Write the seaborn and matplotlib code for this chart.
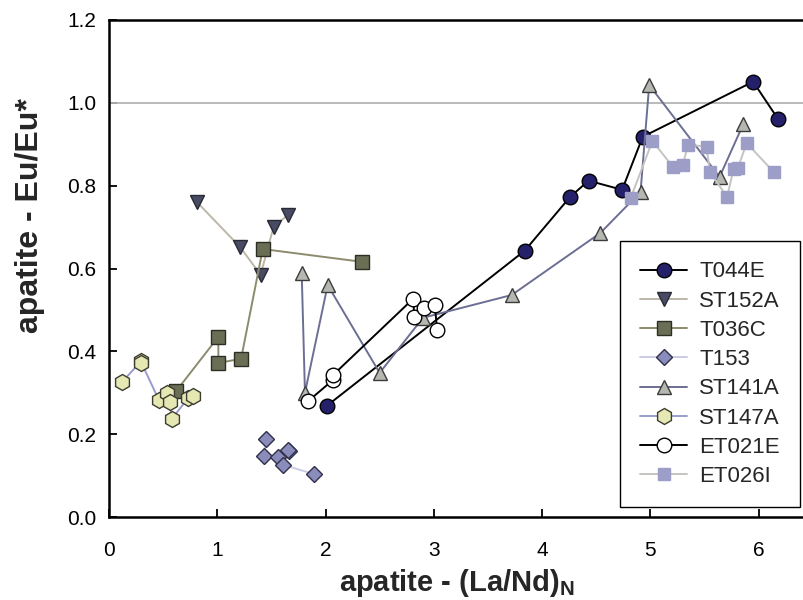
import matplotlib
matplotlib.use("Agg")
import matplotlib.pyplot as plt
import seaborn as sns
import pandas as pd

# Sample series: (La/Nd)N ratio and Eu anomaly measured in apatite
t044e_x = [2.01, 3.84, 4.26, 4.43, 4.74, 4.93, 5.95, 6.18]
t044e_y = [0.268, 0.643, 0.773, 0.812, 0.790, 0.918, 1.051, 0.961]

st152a_x = [0.81, 1.21, 1.40, 1.52, 1.65]
st152a_y = [0.761, 0.652, 0.585, 0.700, 0.729]

t036c_x = [0.62, 1.01, 1.01, 1.22, 1.42, 2.34]
t036c_y = [0.304, 0.435, 0.372, 0.382, 0.647, 0.616]

t153_x = [1.45, 1.43, 1.56, 1.66, 1.65, 1.61, 1.89]
t153_y = [0.188, 0.147, 0.145, 0.159, 0.162, 0.126, 0.104]

st141a_x = [1.78, 1.81, 2.02, 2.50, 2.90, 3.72, 4.54, 4.91, 4.99, 5.64, 5.86]
st141a_y = [0.589, 0.300, 0.560, 0.348, 0.481, 0.536, 0.686, 0.785, 1.043, 0.821, 0.949]

st147a_x = [0.12, 0.30, 0.30, 0.46, 0.54, 0.56, 0.58, 0.73, 0.78]
st147a_y = [0.326, 0.377, 0.372, 0.283, 0.300, 0.278, 0.237, 0.287, 0.292]

et021e_x = [1.84, 2.07, 2.07, 2.81, 2.82, 2.91, 3.01, 3.03]
et021e_y = [0.280, 0.331, 0.343, 0.527, 0.483, 0.505, 0.512, 0.452]

et026i_x = [4.82, 5.02, 5.21, 5.30, 5.35, 5.52, 5.55, 5.71, 5.77, 5.81, 5.89, 6.14]
et026i_y = [0.771, 0.908, 0.845, 0.850, 0.899, 0.894, 0.833, 0.773, 0.841, 0.843, 0.903, 0.833]

x_ticks = [0, 1, 2, 3, 4, 5, 6]
y_ticks = [0.0, 0.2, 0.4, 0.6, 0.8, 1.0, 1.2]
y_tick_labels = ["0.0", "0.2", "0.4", "0.6", "0.8", "1.0", "1.2"]

sns.set_theme(style="ticks")
plt.rcParams["font.family"] = ["Liberation Sans", "DejaVu Sans"]
plt.rcParams["mathtext.fontset"] = "custom"
plt.rcParams["mathtext.rm"] = "Liberation Sans"
plt.rcParams["mathtext.bf"] = "Liberation Sans:bold"

fig = plt.figure(figsize=(8.04, 6.0), dpi=100)
ax = fig.add_axes([0.1356, 0.1383, 0.8644, 0.8284])

# reference line for no Eu anomaly
ax.axhline(1.0, color="#b4b4b4", lw=1.3, zorder=1)

series = [
    ("T044E", t044e_x, t044e_y, dict(marker="o", color="black", mfc="#25206a", mec="black", ms=10.5)),
    ("ST152A", st152a_x, st152a_y, dict(marker="v", color="#bcb7a8", mfc="#474b63", mec="#2a2a35", ms=10.5)),
    ("T036C", t036c_x, t036c_y, dict(marker="s", color="#8c8b6e", mfc="#6a6e55", mec="#2e2e25", ms=9.5)),
    ("T153", t153_x, t153_y, dict(marker="D", color="#cbcbe6", mfc="#8a8cbc", mec="#30304a", ms=8.5)),
    ("ST141A", st141a_x, st141a_y, dict(marker="^", color="#6c6f93", mfc="#b4b8b0", mec="#3c3c3c", ms=10.5)),
    ("ST147A", st147a_x, st147a_y, dict(marker="h", color="#9a9ccc", mfc="#e6e8b4", mec="#3c3c30", ms=11.5)),
    ("ET021E", et021e_x, et021e_y, dict(marker="o", color="black", mfc="white", mec="black", ms=10.5)),
    ("ET026I", et026i_x, et026i_y, dict(marker="s", color="#c4c4c0", mfc="#9c9ec8", mec="#9c9ec8", ms=8)),
]

for name, xs, ys, st in series:
    df = pd.DataFrame({"x": xs, "y": ys})
    sns.lineplot(data=df, x="x", y="y", sort=False, estimator=None, ax=ax,
                 label=name, color=st["color"], lw=1.4, marker=st["marker"],
                 markersize=st["ms"], markerfacecolor=st["mfc"],
                 markeredgecolor=st["mec"], markeredgewidth=1.0)

ax.set_xlim(0, 6.42)
ax.set_ylim(0, 1.2)
ax.set_xticks(x_ticks)
ax.set_yticks(y_ticks)
ax.set_yticklabels(y_tick_labels)

for side in ["left", "bottom", "top"]:
    ax.spines[side].set_linewidth(1.8)
    ax.spines[side].set_color("black")
ax.spines["right"].set_visible(False)

ax.tick_params(axis="both", direction="in", length=6, width=1.3, labelsize=15, colors="black")
ax.tick_params(axis="x", pad=17)
ax.tick_params(axis="y", pad=9)

ax.set_xlabel(r"apatite - (La/Nd)$_{\mathbf{N}}$", fontsize=21, fontweight="bold", labelpad=5)
ax.set_ylabel("apatite - Eu/Eu*", fontsize=23, fontweight="bold")
ax.yaxis.set_label_coords(-0.092, 0.606)

leg = ax.legend(loc="lower right", bbox_to_anchor=(0.995, 0.155), bbox_transform=fig.transFigure,
                fontsize=16, numpoints=1, handlelength=2.1, handletextpad=0.55,
                labelspacing=0.37, borderpad=0.9, borderaxespad=0, fancybox=False,
                framealpha=1, edgecolor="black")
leg.get_frame().set_linewidth(1.0)

fig.savefig("out.png", dpi=100)
